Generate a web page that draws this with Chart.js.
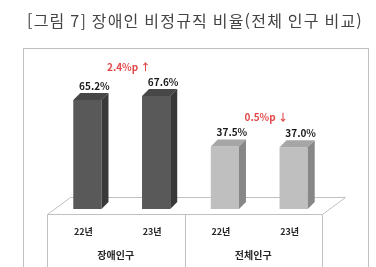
<!DOCTYPE html>
<html lang="ko">
<head>
<meta charset="UTF-8">
<title>장애인 비정규직 비율</title>
<script src="https://cdn.jsdelivr.net/npm/chart.js"></script>
<style>
  body { margin: 0; background: #fff; }
  canvas { display: block; }
</style>
</head>
<body>
<canvas id="chart" width="376" height="267"></canvas>
<script>
const title = '[그림 7] 장애인 비정규직 비율(전체 인구 비교)';
const years = ['22년', '23년', '22년', '23년'];
const groups = ['장애인구', '전체인구'];
const rates = [65.2, 67.6, 37.5, 37.0];
const changes = ['2.4%p ↑', '0.5%p ↓'];

const frontColors = ['#595959', '#595959', '#bfbfbf', '#bfbfbf'];
const topColors = ['#474747', '#474747', '#a6a6a6', '#a6a6a6'];
const sideColors = ['#393939', '#393939', '#878787', '#878787'];

const DEPTH = 7;                 // 3d depth of the bars
const FLOOR_X = 23, FLOOR_Y = 17; // depth of the floor
const SHIFT = 6;                 // bars stand a bit behind the floor's front edge
const LINE = '#c0c0c0';
const NUM_FONT = 'bold 10px "Liberation Sans Narrow", "Noto Sans CJK KR", sans-serif';

const frame = {
    id: 'frame',
    beforeDatasetsDraw(chart) {
        const { ctx, chartArea: a, scales: { x } } = chart;
        ctx.save();
        ctx.fillStyle = '#444';
        ctx.font = '16px "Noto Sans CJK KR"';
        ctx.letterSpacing = '1.2px';
        ctx.textAlign = 'center';
        ctx.textBaseline = 'middle';
        ctx.fillText(title, 195, 21);
        ctx.letterSpacing = '0px';

        ctx.strokeStyle = LINE;
        ctx.lineWidth = 1;
        ctx.strokeRect(23.5, 48.5, 345, 240);

        // floor
        const l = Math.round(a.left - SHIFT) + 0.5;
        const r = Math.round(a.right - SHIFT) + 0.5;
        const fy = Math.round(a.bottom + 5) + 0.5;
        ctx.beginPath();
        ctx.moveTo(l, fy);
        ctx.lineTo(l + FLOOR_X, fy - FLOOR_Y);
        ctx.lineTo(r + FLOOR_X, fy - FLOOR_Y);
        ctx.lineTo(r, fy);
        ctx.closePath();
        ctx.fillStyle = '#fff';
        ctx.fill();
        ctx.stroke();

        const mid = Math.round((x.getPixelForValue(1) + x.getPixelForValue(2)) / 2 - SHIFT) + 0.5;
        ctx.beginPath();
        [l, mid, r].forEach(px => {
            ctx.moveTo(px, fy);
            ctx.lineTo(px, chart.height);
        });
        ctx.stroke();

        // category labels on the floor front
        ctx.fillStyle = '#262626';
        ctx.font = 'bold 9px "Noto Sans CJK KR"';
        years.forEach((t, i) => {
            ctx.fillText(t, x.getPixelForValue(i) - SHIFT + 2, 232);
        });
        ctx.font = 'bold 10px "Noto Sans CJK KR"';
        groups.forEach((t, g) => {
            const cx = (x.getPixelForValue(g * 2) + x.getPixelForValue(g * 2 + 1)) / 2 - SHIFT;
            ctx.fillText(t, cx, 255);
        });
        ctx.restore();
    },
    afterDatasetsDraw(chart) {
        const { ctx } = chart;
        const bars = chart.getDatasetMeta(0).data;
        ctx.save();
        bars.forEach((bar, i) => {
            const { x, y, base, width } = bar.getProps(['x', 'y', 'base', 'width'], true);
            const left = x - width / 2, right = x + width / 2;
            ctx.fillStyle = topColors[i];
            ctx.beginPath();
            ctx.moveTo(left, y);
            ctx.lineTo(left + DEPTH, y - DEPTH);
            ctx.lineTo(right + DEPTH, y - DEPTH);
            ctx.lineTo(right, y);
            ctx.closePath();
            ctx.fill();
            ctx.fillStyle = sideColors[i];
            ctx.beginPath();
            ctx.moveTo(right, y);
            ctx.lineTo(right + DEPTH, y - DEPTH);
            ctx.lineTo(right + DEPTH, base - DEPTH);
            ctx.lineTo(right, base);
            ctx.closePath();
            ctx.fill();

            ctx.fillStyle = '#1a1a1a';
            ctx.font = NUM_FONT;
            ctx.textAlign = 'center';
            ctx.textBaseline = 'middle';
            ctx.fillText(rates[i].toFixed(1) + '%', x + DEPTH, y - 14);
        });

        ctx.fillStyle = '#e34848';
        changes.forEach((t, g) => {
            const a = bars[g * 2], b = bars[g * 2 + 1];
            ctx.fillText(t, (a.x + b.x) / 2 + DEPTH, Math.min(a.y, b.y) - 29);
        });
        ctx.restore();
    }
};

new Chart(document.getElementById('chart'), {
    type: 'bar',
    data: {
        labels: years,
        datasets: [{
            data: rates,
            backgroundColor: frontColors,
            barPercentage: 0.41,
            categoryPercentage: 1
        }]
    },
    options: {
        responsive: false,
        animation: false,
        devicePixelRatio: 1,
        layout: { padding: { left: 53, right: 48, top: 42, bottom: 58 } },
        plugins: { legend: { display: false }, tooltip: { enabled: false } },
        scales: {
            x: { display: false, offset: true },
            y: { display: false, min: 0, max: 100 }
        }
    },
    plugins: [frame]
});
</script>
</body>
</html>
